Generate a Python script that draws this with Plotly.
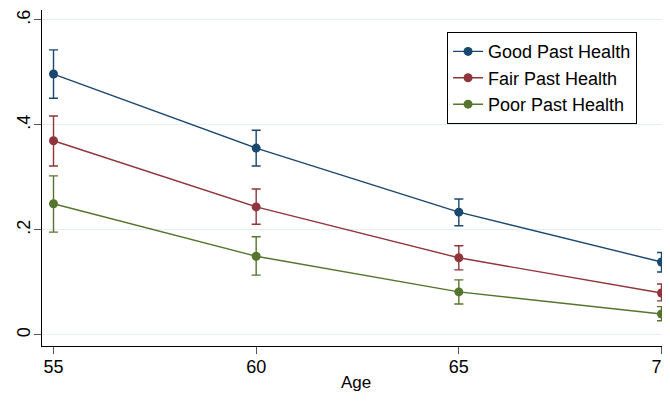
import plotly.graph_objects as go

ages = [55, 60, 65, 70]
good = [0.497, 0.356, 0.234, 0.139]
good_hi = [0.543, 0.390, 0.259, 0.157]
good_lo = [0.451, 0.322, 0.208, 0.120]
fair = [0.370, 0.244, 0.147, 0.080]
fair_hi = [0.417, 0.278, 0.170, 0.097]
fair_lo = [0.322, 0.211, 0.124, 0.065]
poor = [0.250, 0.150, 0.082, 0.040]
poor_hi = [0.303, 0.187, 0.105, 0.054]
poor_lo = [0.196, 0.114, 0.059, 0.027]
names = ["Good Past Health", "Fair Past Health", "Poor Past Health"]
colors = ["#1a476f", "#90353b", "#55752f"]
y_ticks = [0, 0.2, 0.4, 0.6]
y_labels = ["0", ".2", ".4", ".6"]

fig = go.Figure()
for name, col, y, hi, lo in zip(names, colors, [good, fair, poor], [good_hi, fair_hi, poor_hi], [good_lo, fair_lo, poor_lo]):
    fig.add_trace(go.Scatter(
        x=ages, y=y, name=name, mode="lines+markers",
        line=dict(color=col, width=1.4),
        marker=dict(color=col, size=9),
        error_y=dict(type="data", symmetric=False,
                     array=[h - v for h, v in zip(hi, y)],
                     arrayminus=[v - l for v, l in zip(y, lo)],
                     color=col, thickness=1.4, width=4.5),
        cliponaxis=False,
    ))

fig.update_layout(
    width=662, height=385,
    margin=dict(l=34, r=0, t=2, b=47, autoexpand=False),
    paper_bgcolor="white", plot_bgcolor="white",
    font=dict(family="Liberation Sans, Arial, sans-serif", size=18, color="black"),
    showlegend=True,
    legend=dict(x=0.645, y=0.934, xanchor="left", yanchor="top",
                bordercolor="black", borderwidth=1, bgcolor="white",
                font=dict(size=18), tracegroupgap=0, itemwidth=30),
    xaxis=dict(range=[54.716, 70.21], tickvals=ages, ticktext=[str(a) for a in ages],
               automargin=False, ticklabeloverflow="allow",
               showgrid=False, zeroline=False, showline=True, linecolor="black", linewidth=1.3,
               ticks="outside", ticklen=7, tickcolor="#555555", tickwidth=1.3,
               ticklabelstandoff=-3,
               tickfont=dict(size=18)),
    yaxis=dict(range=[-0.021, 0.619], tickvals=y_ticks, ticktext=y_labels, tickangle=-90,
               automargin=False, ticklabeloverflow="allow",
               showgrid=True, gridcolor="#e6eeef", gridwidth=1, zeroline=False,
               showline=True, linecolor="black", linewidth=1.3,
               ticks="outside", ticklen=7, tickcolor="#555555", tickwidth=1.3,
               ticklabelstandoff=-3,
               tickfont=dict(size=18)),
    annotations=[dict(text="Age", xref="paper", yref="paper", x=0.5, y=-0.110,
                      xanchor="center", yanchor="middle", showarrow=False,
                      font=dict(size=17))],
)

fig.write_html("out.html")
